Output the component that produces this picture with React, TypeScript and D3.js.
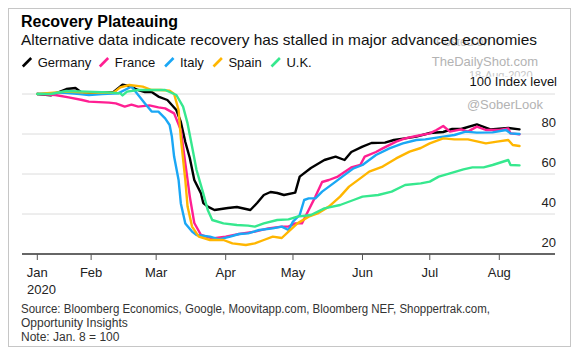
import React from "react";
import * as d3 from "d3";

type Pt = [string, number];

const germany: Pt[] = [
  ["01-08", 100], ["01-14", 99.3], ["01-21", 102.5], ["01-25", 103], ["01-28", 100.5],
  ["02-04", 100.5], ["02-11", 101], ["02-15", 104.6], ["02-18", 104], ["02-22", 102],
  ["02-25", 101], ["02-28", 101], ["03-02", 98.7], ["03-06", 97], ["03-10", 92],
  ["03-12", 86], ["03-14", 76], ["03-16", 68], ["03-18", 57], ["03-21", 50.3],
  ["03-22", 45.5], ["03-24", 43.7], ["03-27", 42], ["04-02", 43], ["04-06", 43.5],
  ["04-12", 42], ["04-15", 45.5], ["04-18", 49.5], ["04-21", 51], ["04-24", 50.5],
  ["04-27", 49.5], ["05-02", 50.7], ["05-04", 58.7], ["05-09", 63], ["05-15", 67],
  ["05-20", 68.7], ["05-24", 67], ["05-27", 71], ["06-01", 73.7], ["06-05", 75.5],
  ["06-11", 75.7], ["06-15", 77], ["06-20", 77.8], ["06-25", 78.7], ["07-01", 80.5],
  ["07-07", 81], ["07-11", 82.5], ["07-15", 82.5], ["07-22", 84.8], ["07-28", 82.3],
  ["08-05", 83], ["08-10", 82.3],
];

const france: Pt[] = [
  ["01-08", 100], ["01-16", 99.5], ["01-22", 98.3], ["01-28", 97], ["01-31", 96.2],
  ["02-09", 95.7], ["02-12", 95.3], ["02-16", 93.7], ["02-19", 94.7], ["02-22", 93.7],
  ["02-27", 94.3], ["03-02", 93.3], ["03-05", 92.8], ["03-09", 90.3], ["03-12", 82],
  ["03-14", 65.3], ["03-16", 48.7], ["03-18", 35.5], ["03-21", 29.5], ["03-26", 27.8],
  ["04-01", 28.7], ["04-07", 30], ["04-14", 31.2], ["04-20", 32.8], ["04-26", 33.7],
  ["04-29", 33.7], ["05-02", 35.3], ["05-05", 35.3], ["05-08", 42], ["05-11", 48.7],
  ["05-14", 56], ["05-17", 57], ["05-21", 58.7], ["05-27", 63.3], ["05-31", 64.5],
  ["06-02", 68.7], ["06-07", 71], ["06-10", 72.8], ["06-16", 76.2], ["06-20", 77.8],
  ["06-25", 79], ["07-01", 80.3], ["07-04", 82], ["07-07", 84], ["07-10", 81.2],
  ["07-15", 82.3], ["07-18", 81.2], ["07-22", 83.7], ["07-26", 82], ["08-01", 82],
  ["08-05", 82.8], ["08-06", 80.3], ["08-10", 79.8],
];

const italy: Pt[] = [
  ["01-08", 100], ["01-19", 100.7], ["01-27", 100], ["01-31", 99.5], ["02-06", 100],
  ["02-13", 100.3], ["02-16", 102], ["02-19", 103.7], ["02-22", 99.5], ["02-25", 95.3],
  ["02-28", 91.2], ["03-02", 91.2], ["03-05", 87.8], ["03-07", 84.5], ["03-08", 78.7],
  ["03-09", 68.7], ["03-11", 57], ["03-12", 45.3], ["03-14", 35.3], ["03-17", 31.2],
  ["03-19", 29.5], ["03-25", 28.7], ["03-29", 27.3], ["04-03", 28.7], ["04-07", 30],
  ["04-11", 30.3], ["04-16", 32], ["04-22", 32.8], ["04-26", 33.7], ["04-29", 32],
  ["05-01", 36.2], ["05-04", 39.5], ["05-06", 47], ["05-08", 47.8], ["05-11", 47.8],
  ["05-14", 51.2], ["05-19", 55.3], ["05-23", 58.7], ["05-28", 62.8], ["06-01", 64.5],
  ["06-07", 69.5], ["06-13", 72.8], ["06-19", 75.3], ["06-25", 77], ["06-29", 77.3],
  ["07-07", 78.7], ["07-12", 79.5], ["07-17", 81.2], ["07-22", 80.7], ["07-29", 80.8],
  ["08-04", 82], ["08-06", 80.3], ["08-10", 80],
];

const spain: Pt[] = [
  ["01-08", 100], ["01-21", 101.2], ["01-30", 100.7], ["02-11", 100.7], ["02-14", 103.3],
  ["02-18", 104.5], ["02-24", 103.7], ["02-28", 102], ["03-03", 102], ["03-07", 101.7],
  ["03-09", 100], ["03-11", 92], ["03-12", 78], ["03-14", 57], ["03-15", 43.7],
  ["03-17", 33.7], ["03-20", 28.7], ["03-25", 27], ["03-31", 27], ["04-04", 25.3],
  ["04-10", 24.5], ["04-14", 25.3], ["04-18", 27], ["04-22", 28.7], ["04-26", 28],
  ["04-29", 31.2], ["05-03", 35.3], ["05-08", 38.7], ["05-12", 40.3], ["05-17", 43.7],
  ["05-22", 48.7], ["05-26", 53.7], ["05-31", 57.8], ["06-04", 61.2], ["06-10", 63.7],
  ["06-16", 67.8], ["06-22", 71.2], ["06-27", 73], ["07-01", 75.3], ["07-07", 77.8],
  ["07-12", 77.3], ["07-18", 77.3], ["07-26", 75.3], ["07-31", 76.2], ["08-05", 77],
  ["08-07", 74.5], ["08-10", 74],
];

const uk: Pt[] = [
  ["01-08", 100], ["01-14", 100], ["01-21", 101.5], ["01-30", 101.2], ["02-09", 100.8],
  ["02-14", 100.3], ["02-15", 99.3], ["02-17", 101.2], ["02-22", 102], ["03-02", 102],
  ["03-05", 102], ["03-10", 99.5], ["03-13", 93.7], ["03-15", 85.3], ["03-17", 73.7],
  ["03-19", 62], ["03-22", 50.3], ["03-24", 42], ["03-26", 37], ["03-31", 35.3],
  ["04-06", 34.5], ["04-11", 34.2], ["04-14", 33.7], ["04-18", 35.3], ["04-24", 37],
  ["04-29", 37.3], ["05-03", 38.7], ["05-09", 39.5], ["05-15", 42.8], ["05-22", 44.5],
  ["05-28", 47], ["06-01", 48.7], ["06-08", 49.5], ["06-14", 51.2], ["06-20", 54.5],
  ["06-27", 55.3], ["07-01", 56.2], ["07-05", 58.7], ["07-10", 60.3], ["07-16", 62.3],
  ["07-20", 63.3], ["07-25", 63.3], ["07-29", 64.5], ["08-05", 67], ["08-06", 64.5],
  ["08-10", 64.3],
];

const seriesNames = ["Germany", "France", "Italy", "Spain", "U.K."];
const seriesData = [germany, france, italy, spain, uk];
const seriesColors = ["#000000", "#ff1f92", "#1aa7f5", "#ffb600", "#36e88e"];

const yTicks = [20, 40, 60, 80, 100];
const xTickDates = ["01-08", "02-01", "03-01", "04-01", "05-01", "06-01", "07-01", "08-01"];
const xTickLabels = ["Jan", "Feb", "Mar", "Apr", "May", "Jun", "Jul", "Aug"];

const title = "Recovery Plateauing";
const subtitle = "Alternative data indicate recovery has stalled in major advanced economies";
const sourceLines = [
  "Source: Bloomberg Economics, Google, Moovitapp.com, Bloomberg NEF, Shoppertrak.com,",
  "Opportunity Insights",
  "Note: Jan. 8 = 100",
];

const parse = (s: string) => new Date(`2020-${s}T00:00:00`);
const FONT = "'Liberation Sans', Arial, Helvetica, sans-serif";

export default function App() {
  const x = d3.scaleTime().domain([parse("01-08"), parse("08-01")]).range([37.3, 499.3]);
  const y = d3.scaleLinear().domain([20, 100]).range([254, 94]);
  const line = d3
    .line<Pt>()
    .x((d) => x(parse(d[0])))
    .y((d) => y(d[1]))
    .curve(d3.curveLinear);

  const legendX = [22, 99, 164.3, 212.7, 270.7];

  return (
    <svg
      width={579}
      height={355}
      style={{ position: "absolute", left: 0, top: 0, fontFamily: FONT }}
    >
      <rect x={0} y={0} width={579} height={355} fill="#ffffff" />
      <rect x={8.5} y={8.5} width={562} height={338} fill="#ffffff" stroke="#c6c6c6" strokeWidth={1} />

      {/* watermark */}
      <text x={436} y={46} fontSize={12} fill="#c4c4c4">Posted on</text>
      <rect x={420} y={10} width={140} height={29} fill="#ffffff" />

      <text x={21} y={27} fontSize={16} fontWeight="bold" fill="#000" textLength={157} lengthAdjust="spacingAndGlyphs">
        {title}
      </text>
      <text x={21} y={44.5} fontSize={15} fill="#111" textLength={516} lengthAdjust="spacingAndGlyphs">
        {subtitle}
      </text>

      {seriesNames.map((n, i) => (
        <g key={n}>
          <line
            x1={legendX[i] + 0.8}
            y1={66.5}
            x2={legendX[i] + 9.2}
            y2={58}
            stroke={seriesColors[i]}
            strokeWidth={2.6}
          />
          <text x={legendX[i] + 15.7} y={67} fontSize={13} fill="#111">
            {n}
          </text>
        </g>
      ))}

      <text x={538} y={66.3} fontSize={13} fill="#b3b3b3" textAnchor="end">TheDailyShot.com</text>
      <text x={469} y={79} fontSize={11} fill="#c8c8c8">18-Aug-2020</text>
      <rect x={466} y={76.5} width={94} height={13} fill="#ffffff" />
      <text x={557} y={86.3} fontSize={13} fill="#111" textAnchor="end">100 Index level</text>

      {yTicks.slice(0, 4).concat([100]).map((t) =>
        t === 20 ? null : (
          <line key={t} x1={22} x2={555} y1={y(t)} y2={y(t)} stroke="#dcdcdc" strokeWidth={1} />
        )
      )}

      <text x={543} y={108.8} fontSize={13} fill="#b3b3b3" textAnchor="end">@SoberLook</text>

      {yTicks.filter((t) => t !== 100).map((t) => (
        <text key={t} x={556} y={y(t) - 7} fontSize={13} fill="#222" textAnchor="end">
          {t}
        </text>
      ))}

      {seriesData.map((s, i) => (
        <path
          key={seriesNames[i]}
          d={line(s) || ""}
          fill="none"
          stroke={seriesColors[i]}
          strokeWidth={2.4}
          strokeLinejoin="round"
          strokeLinecap="round"
        />
      ))}

      <line x1={22} x2={555} y1={y(20)} y2={y(20)} stroke="#333" strokeWidth={1.5} />
      {xTickDates.map((d, i) => (
        <g key={d}>
          <line x1={x(parse(d))} x2={x(parse(d))} y1={254} y2={260} stroke="#555" strokeWidth={1} />
          <text x={x(parse(d))} y={277} fontSize={13} fill="#222" textAnchor="middle">
            {xTickLabels[i]}
          </text>
        </g>
      ))}
      <text x={27} y={293.5} fontSize={13} fill="#222">2020</text>

      {sourceLines.map((l, i) => (
        <text
          key={i}
          x={21}
          y={313 + i * 14}
          fontSize={12}
          fill="#333"
          textLength={i === 0 ? 469 : undefined}
          lengthAdjust="spacingAndGlyphs"
        >
          {l}
        </text>
      ))}
    </svg>
  );
}
